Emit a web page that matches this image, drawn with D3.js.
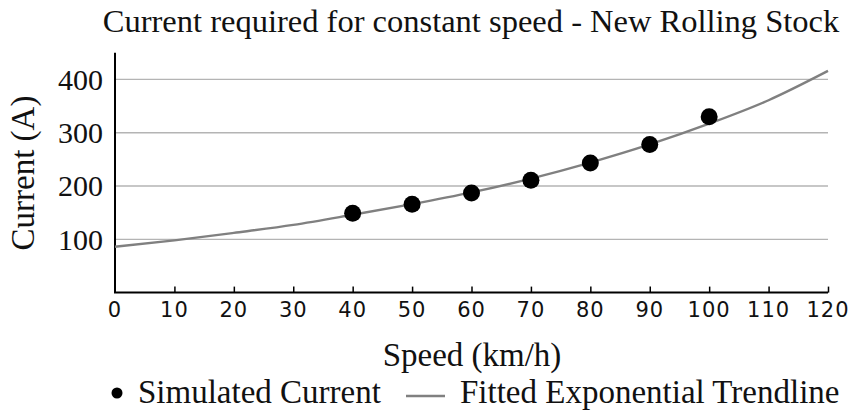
<!DOCTYPE html>
<html>
<head>
<meta charset="utf-8">
<script src="https://cdn.jsdelivr.net/npm/d3@7"></script>
<style>
  body { margin: 0; background: #fff; }
  svg { display: block; }
</style>
</head>
<body>
<div id="chart"></div>
<script>
const speeds = [40, 50, 60, 70, 80, 90, 100];
const currents = [149, 166, 187, 211, 243, 278, 330];

// trendline every 10 km/h
const trendSpeeds = [0, 10, 20, 30, 40, 50, 60, 70, 80, 90, 100, 110, 120];
const trendCurrents = [86, 98, 112, 127, 146, 166, 188, 214, 244, 278, 317, 361, 416];

const xTicks = [0, 10, 20, 30, 40, 50, 60, 70, 80, 90, 100, 110, 120];
const yTicks = [100, 200, 300, 400];

const width = 852, height = 415;
const serif = "'Liberation Serif', 'Times New Roman', serif";
const sans = "'DejaVu Sans', sans-serif";

const svg = d3.select("#chart").append("svg")
  .attr("width", width)
  .attr("height", height);

const x = d3.scaleLinear().domain([0, 120]).range([115, 828]);
const y = d3.scaleLinear().domain([0, 450]).range([292.6, 52.8]);

// gridlines
svg.append("g")
  .selectAll("line")
  .data(yTicks)
  .join("line")
  .attr("x1", x(0)).attr("x2", x(120))
  .attr("y1", d => y(d)).attr("y2", d => y(d))
  .attr("stroke", "#b4b4b4")
  .attr("stroke-width", 1.3);

// y tick labels
svg.append("g")
  .selectAll("text")
  .data(yTicks)
  .join("text")
  .attr("x", x(0) - 12)
  .attr("y", d => y(d))
  .attr("dy", "0.34em")
  .attr("text-anchor", "end")
  .style("font-family", serif)
  .style("font-size", "30px")
  .attr("fill", "#111")
  .text(d => d);

// x axis ticks (pointing inward)
const xAxis = svg.append("g")
  .attr("transform", `translate(0,${y(0)})`)
  .call(d3.axisTop(x).tickValues(xTicks.slice(1)).tickSize(6).tickFormat(""))
  .call(g => g.select(".domain").remove());
xAxis.selectAll(".tick line").attr("stroke", "#000").attr("stroke-width", 1.5);

svg.append("g")
  .selectAll("text")
  .data(xTicks)
  .join("text")
  .attr("x", d => x(d))
  .attr("y", 317)
  .attr("text-anchor", "middle")
  .style("font-family", sans)
  .style("font-size", "21px")
  .style("letter-spacing", "1px")
  .attr("fill", "#111")
  .text(d => d);

// axis lines
svg.append("path")
  .attr("d", `M${x(0)},${y(450)}V${y(0)}H${x(120)}`)
  .attr("fill", "none")
  .attr("stroke", "#000")
  .attr("stroke-width", 2);

// trendline
const trend = trendSpeeds.map((s, i) => [s, trendCurrents[i]]);
svg.append("path")
  .datum(trend)
  .attr("fill", "none")
  .attr("stroke", "#808080")
  .attr("stroke-width", 2.4)
  .attr("d", d3.line().x(d => x(d[0])).y(d => y(d[1])).curve(d3.curveMonotoneX));

// points
svg.append("g")
  .selectAll("circle")
  .data(speeds.map((s, i) => [s, currents[i]]))
  .join("circle")
  .attr("cx", d => x(d[0]))
  .attr("cy", d => y(d[1]))
  .attr("r", 8.5)
  .attr("fill", "#000");

// title and axis labels
svg.append("text")
  .attr("x", 471)
  .attr("y", 32)
  .attr("text-anchor", "middle")
  .style("font-family", serif)
  .style("font-size", "32.5px")
  .attr("fill", "#111")
  .text("Current required for constant speed - New Rolling Stock");

svg.append("text")
  .attr("x", 472)
  .attr("y", 366)
  .attr("text-anchor", "middle")
  .style("font-family", serif)
  .style("font-size", "33px")
  .attr("fill", "#111")
  .text("Speed (km/h)");

svg.append("text")
  .attr("transform", `translate(34,173) rotate(-90)`)
  .attr("text-anchor", "middle")
  .style("font-family", serif)
  .style("font-size", "33px")
  .attr("fill", "#111")
  .text("Current (A)");

// legend
const legend = svg.append("g");
legend.append("circle").attr("cx", 117).attr("cy", 393).attr("r", 5.5).attr("fill", "#000");
legend.append("text")
  .attr("x", 138).attr("y", 403)
  .style("font-family", serif).style("font-size", "33px").attr("fill", "#111")
  .text("Simulated Current");
legend.append("line")
  .attr("x1", 406).attr("x2", 445).attr("y1", 396).attr("y2", 396)
  .attr("stroke", "#808080").attr("stroke-width", 2.4);
legend.append("text")
  .attr("x", 460).attr("y", 403)
  .style("font-family", serif).style("font-size", "33px").attr("fill", "#111")
  .text("Fitted Exponential Trendline");
</script>
</body>
</html>
